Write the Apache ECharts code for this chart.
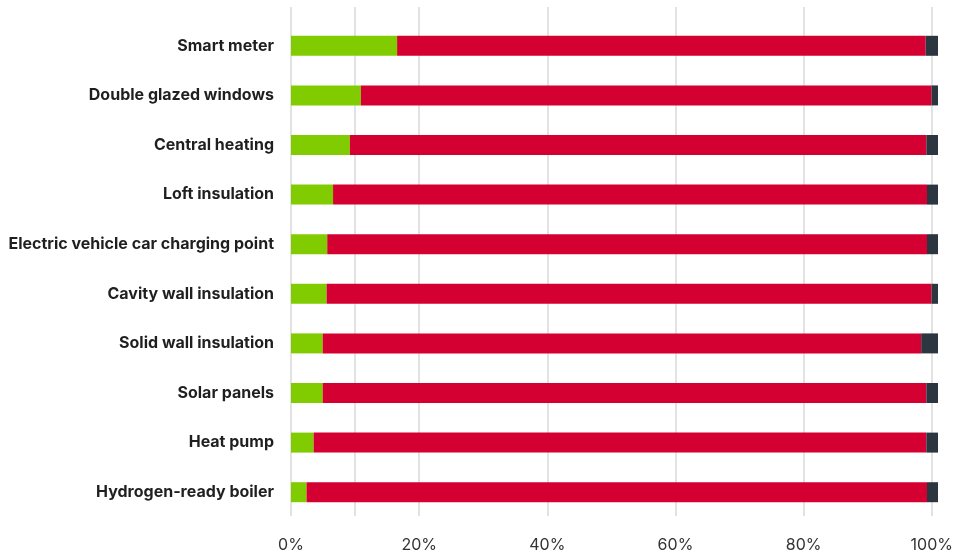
<!DOCTYPE html>
<html>
<head>
<meta charset="utf-8">
<script src="https://cdn.jsdelivr.net/npm/echarts@6/dist/echarts.min.js"></script>
<style>
  html, body { margin: 0; padding: 0; background: #ffffff; }
  #chart { width: 956px; height: 553px; }
</style>
</head>
<body>
<div id="chart"></div>
<script>
// Home energy measures, share of responses (percent of each row)
const categories = [
  'Smart meter',
  'Double glazed windows',
  'Central heating',
  'Loft insulation',
  'Electric vehicle car charging point',
  'Cavity wall insulation',
  'Solid wall insulation',
  'Solar panels',
  'Heat pump',
  'Hydrogen-ready boiler'
];
const greenValues = [16.4, 10.8, 9.1, 6.5, 5.6, 5.5, 4.9, 4.9, 3.5, 2.4];
const redValues   = [81.7, 88.2, 89.1, 91.8, 92.7, 93.5, 92.5, 93.3, 94.7, 95.9];
const darkValues  = [1.9, 1.0, 1.8, 1.7, 1.7, 1.0, 2.6, 1.8, 1.8, 1.7];
const xTicks = [0, 20, 40, 60, 80, 100];
const extraGuides = [10];

const GREEN = '#80cc00';
const RED = '#d50032';
const DARK = '#2b3640';
const GUIDE = '#d9d9d9';

const chart = echarts.init(document.getElementById('chart'), null, { renderer: 'canvas' });

const barSeries = (name, values, color) => ({
  name: name,
  type: 'bar',
  stack: 'total',
  xAxisIndex: 0,
  yAxisIndex: 0,
  barWidth: 20,
  z: 3,
  itemStyle: { color: color },
  emphasis: { disabled: true },
  data: values
});

chart.setOption({
  animation: false,
  grid: [
    // bars
    { left: 291, right: 18, top: 21, height: 496, containLabel: false },
    // vertical guide lines and percentage labels (taller than the bar area)
    { left: 291, right: 18, top: 7, height: 509, containLabel: false }
  ],
  xAxis: [
    {
      gridIndex: 0, type: 'value', min: 0, max: 100, interval: 20,
      axisLine: { show: false }, axisTick: { show: false },
      axisLabel: { show: false }, splitLine: { show: false }
    },
    {
      gridIndex: 1, type: 'value', min: 0, max: 100, interval: 20,
      axisLine: { show: false },
      axisTick: { show: false },
      splitLine: { show: true, lineStyle: { color: GUIDE, width: 1.5 } },
      axisLabel: {
        margin: 21,
        color: '#333333',
        fontSize: 16,
        fontFamily: 'Inter, Roboto, sans-serif',
        customValues: xTicks,
        formatter: v => v + '%'
      }
    }
  ],
  yAxis: [
    {
      gridIndex: 0, type: 'category', data: categories, inverse: true,
      axisLine: { show: false }, axisTick: { show: false },
      splitLine: { show: false },
      axisLabel: {
        margin: 17,
        color: '#1f1f1f',
        fontSize: 16,
        fontWeight: 'bold',
        fontFamily: 'Inter, Roboto, sans-serif'
      }
    },
    {
      gridIndex: 1, type: 'value', min: 0, max: 1,
      show: false
    }
  ],
  series: [
    // additional vertical guide in the taller guide grid, kept behind the bars
    {
      name: 'Guides',
      type: 'line',
      xAxisIndex: 1,
      yAxisIndex: 1,
      data: [],
      silent: true,
      z: 0,
      markLine: {
        silent: true,
        z: 0,
        symbol: 'none',
        label: { show: false },
        lineStyle: { color: GUIDE, width: 1.5, type: 'solid' },
        data: extraGuides.map(v => ({ xAxis: v }))
      }
    },
    barSeries('Green', greenValues, GREEN),
    barSeries('Red', redValues, RED),
    barSeries('Dark', darkValues, DARK)
  ]
});
</script>
</body>
</html>
